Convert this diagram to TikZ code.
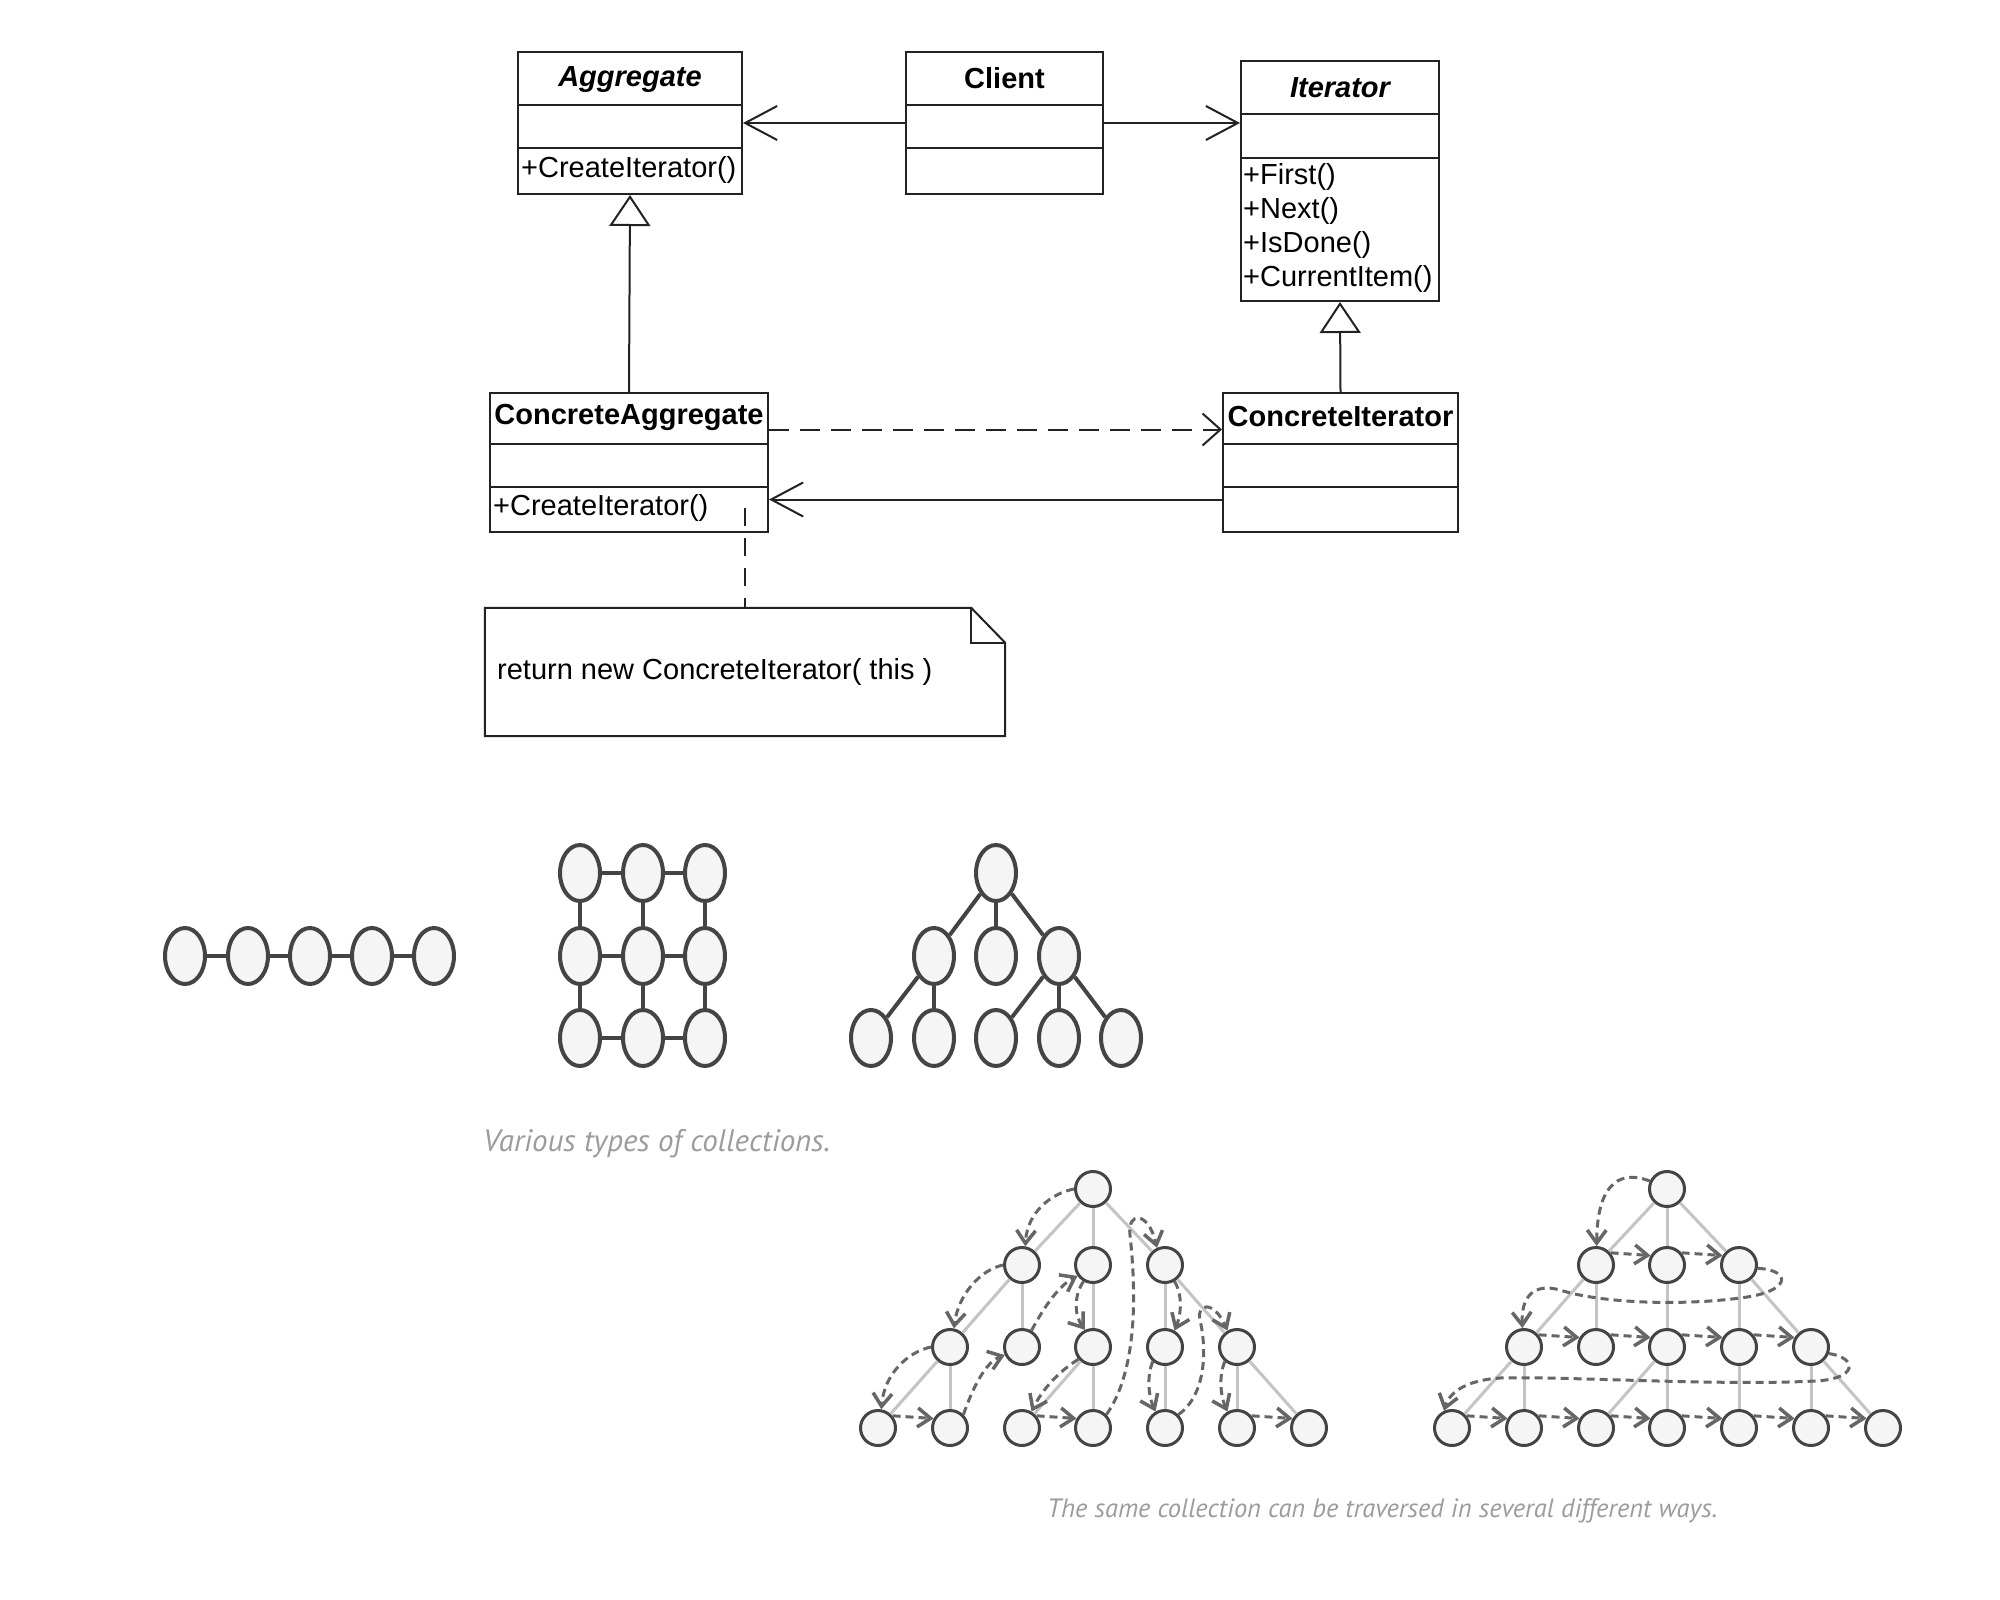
\documentclass[tikz,border=0pt]{standalone}
\usepackage{fontspec}
\setmainfont{Liberation Sans}
\newfontfamily\capfont{PT Sans}
\usetikzlibrary{arrows.meta,shapes.geometric,calc}
\definecolor{umlc}{HTML}{222222}
\definecolor{nodec}{HTML}{444444}
\definecolor{nodefill}{HTML}{F5F5F5}
\definecolor{edgec}{HTML}{C4C4C4}
\definecolor{trc}{HTML}{666666}
\definecolor{capgray}{HTML}{9C9C9C}
\newcommand{\umlsize}{\fontsize{29}{33}\selectfont}
\tikzset{
  umlline/.style={draw=umlc, line width=2pt},
  umlbox/.style={draw=umlc, line width=2pt, inner sep=0pt, rectangle},
  classname/.style={font=\umlsize\bfseries},
  abstractname/.style={font=\umlsize\bfseries\itshape},
  member/.style={anchor=west, inner sep=0pt, font=\umlsize},
  openarr/.style={-{Straight Barb[length=32pt,width=34pt]}},
  inherit/.style={-{Triangle[open,length=31pt,width=41pt,fill=white]}},
  umldash/.style={dash pattern=on 20pt off 11pt},
  coll/.style={ellipse, draw=nodec, fill=nodefill, line width=4pt, minimum width=40pt, minimum height=56pt, inner sep=0pt},
  colledge/.style={draw=nodec, line width=4pt},
  tnode/.style={circle, draw=nodec, fill=nodefill, line width=3pt, minimum size=35pt, inner sep=0pt},
  tedge/.style={draw=edgec, line width=3pt},
  tarrow/.style={draw=trc, line width=3pt, dash pattern=on 8pt off 5pt, -{Straight Barb[length=13pt,width=19pt,line width=3.5pt]}},
  captext/.style={inner sep=0pt, text=capgray, anchor=west}
}
\begin{document}
\begin{tikzpicture}[x=1pt,y=-1pt,font=\umlsize]
\fill[white] (0,0) rectangle (2000,1600);
\useasboundingbox (0,0) rectangle (2000,1600);

% ---------- UML classes ----------
\node[umlbox, minimum width=224pt, minimum height=142pt] (agg) at (630,123) {};
\draw[umlline] (agg.west |- 0,105) -- (agg.east |- 0,105);
\draw[umlline] (agg.west |- 0,148) -- (agg.east |- 0,148);
\node[abstractname] (aggT) at (630,80) {Aggregate};
\node[member] (aggM) at (521,170) {+CreateIterator()};

\node[umlbox, minimum width=197pt, minimum height=142pt] (client) at (1004.5,123) {};
\draw[umlline] (client.west |- 0,105) -- (client.east |- 0,105);
\draw[umlline] (client.west |- 0,148) -- (client.east |- 0,148);
\node[classname] (clientT) at (1004.5,78) {Client};

\node[umlbox, minimum width=198pt, minimum height=240pt] (iter) at (1340,181) {};
\draw[umlline] (iter.west |- 0,114) -- (iter.east |- 0,114);
\draw[umlline] (iter.west |- 0,158) -- (iter.east |- 0,158);
\node[abstractname] (iterT) at (1340,88) {Iterator};
\node[member] (iterM1) at (1243,177) {+First()};
\node[member] (iterM2) at (1243,211) {+Next()};
\node[member] (iterM3) at (1243,245) {+IsDone()};
\node[member] (iterM4) at (1243,279) {+CurrentItem()};

\node[umlbox, minimum width=278pt, minimum height=139pt] (ca) at (629,462.5) {};
\draw[umlline] (ca.west |- 0,444) -- (ca.east |- 0,444);
\draw[umlline] (ca.west |- 0,487) -- (ca.east |- 0,487);
\node[classname] (caT) at (629,417) {ConcreteAggregate};
\node[member] (caM) at (493,508) {+CreateIterator()};

\node[umlbox, minimum width=235pt, minimum height=139pt] (ci) at (1340.5,462.5) {};
\draw[umlline] (ci.west |- 0,444) -- (ci.east |- 0,444);
\draw[umlline] (ci.west |- 0,487) -- (ci.east |- 0,487);
\node[classname] (ciT) at (1340.5,417) {ConcreteIterator};

% note
\node[minimum width=520pt, minimum height=128pt, inner sep=0pt] (note) at (745,672) {};
\draw[umlline] (note.north west) -- ([xshift=-34pt]note.north east) -- ([yshift=-35pt]note.north east) -- (note.south east) -- (note.south west) -- cycle;
\draw[umlline] ([xshift=-34pt]note.north east) -- ([xshift=-34pt,yshift=-35pt]note.north east) -- ([yshift=-35pt]note.north east);
\node[member] (noteT) at (497,672) {return new ConcreteIterator( this )};

% UML connectors
\draw[umlline, openarr] (client.west) -- (agg.east);
\draw[umlline, openarr] (client.east) -- (client.east -| iter.west);
\draw[umlline, inherit] (ca.north) -- (agg.south);
\draw[umlline, inherit] (ci.north) -- (iter.south);
\draw[umlline, umldash, -{Straight Barb[length=18pt,width=32pt]}] ([yshift=33pt]ca.east) -- ([yshift=33pt]ci.west);
\draw[umlline, openarr] ([yshift=-37pt]ci.west) -- ([yshift=-37pt]ca.east);
\draw[umlline, dash pattern=on 18pt off 12pt] ($(ca.south -| note.north)+(0,-25)$) -- (note.north);

% ---------- collections ----------
\foreach \n/\x in {1/185,2/248,3/310,4/372,5/434} \node[coll] (c\n) at (\x,956) {};
\foreach \a/\b in {1/2,2/3,3/4,4/5} \draw[colledge] (c\a) -- (c\b);

\foreach \r/\y in {1/873,2/956,3/1038}
  \foreach \c/\x in {1/580,2/643,3/705}
    \node[coll] (g\r\c) at (\x,\y) {};
\foreach \r in {1,2,3} {\draw[colledge] (g\r1) -- (g\r2); \draw[colledge] (g\r2) -- (g\r3);}
\foreach \c in {1,2,3} {\draw[colledge] (g1\c) -- (g2\c); \draw[colledge] (g2\c) -- (g3\c);}

\foreach \n/\x/\y in {0/996/873, 1/934/956, 2/996/956, 3/1059/956, 4/871/1038, 5/934/1038, 6/996/1038, 7/1059/1038, 8/1121/1038}
  \node[coll] (t\n) at (\x,\y) {};
\foreach \a/\b in {0/1,0/2,0/3,1/4,1/5,3/6,3/7,3/8} \draw[colledge] (t\a) -- (t\b);

\node[captext, font=\capfont\itshape\fontsize{31}{36}\selectfont] (cap1) at (483,1144) {Various types of collections.};

% ---------- traversal trees ----------
\foreach \n/\x/\y in {0/1093/1189, 1/1022/1265, 2/1093/1265, 3/1165/1265, 4/950/1347, 5/1022/1347, 6/1093/1347, 7/1165/1347, 8/1237/1347, 9/878/1428, 10/950/1428, 11/1022/1428, 12/1093/1428, 13/1165/1428, 14/1237/1428, 15/1309/1428} {
  \node[tnode] (a\n) at (\x,\y) {};
  \node[tnode] (b\n) at (\x+574,\y) {};
}
\foreach \p/\c in {0/1,0/2,0/3,1/4,1/5,4/9,4/10,2/6,6/11,6/12,3/7,3/8,7/13,8/14,8/15} {
  \draw[tedge] (a\p) -- (a\c);
  \draw[tedge] (b\p) -- (b\c);
}

% depth-first traversal
\draw[tarrow] (a0.west) .. controls (1052,1193) and (1027,1212) .. (a1.80);
\draw[tarrow] (a1.west) .. controls (980,1270) and (958,1295) .. (a4.78);
\draw[tarrow] (a4.west) .. controls (907,1352) and (884,1375) .. (a9.80);
\draw[tarrow] (a9.40) -- (a10.150);
\draw[tarrow] (a10.45) .. controls (972,1390) and (985,1362) .. (a5.205);
\draw[tarrow] (a5.60) .. controls (1045,1305) and (1060,1285) .. (a2.215);
\draw[tarrow] (a2.240) .. controls (1074,1295) and (1074,1315) .. (a6.115);
\draw[tarrow] (a6.220) .. controls (1058,1372) and (1042,1390) .. (a11.60);
\draw[tarrow] (a11.40) -- (a12.150);
\draw[tarrow] (a12.45) .. controls (1138,1370) and (1136,1290) .. (1130,1235) .. controls (1127,1212) and (1148,1210) .. (a3.115);
\draw[tarrow] (a3.300) .. controls (1183,1295) and (1181,1315) .. (a7.60);
\draw[tarrow] (a7.230) .. controls (1147,1375) and (1148,1395) .. (a13.120);
\draw[tarrow] (a13.45) .. controls (1206,1395) and (1207,1350) .. (1200,1320) .. controls (1196,1303) and (1214,1300) .. (a8.120);
\draw[tarrow] (a8.230) .. controls (1219,1375) and (1220,1395) .. (a14.120);
\draw[tarrow] (a14.40) -- (a15.150);

% breadth-first traversal
\draw[tarrow] (b0.155) .. controls (1615,1168) and (1597,1190) .. (b1.88);
\draw[tarrow] (b1.40) -- (b2.150);
\draw[tarrow] (b2.40) -- (b3.150);
\draw[tarrow] (b3.350) .. controls (1792,1270) and (1792,1292) .. (1740,1298) .. controls (1680,1306) and (1600,1303) .. (1560,1290) .. controls (1535,1283) and (1521,1295) .. (b4.95);
\draw[tarrow] (b4.40) -- (b5.150);
\draw[tarrow] (b5.40) -- (b6.150);
\draw[tarrow] (b6.40) -- (b7.150);
\draw[tarrow] (b7.40) -- (b8.150);
\draw[tarrow] (b8.340) .. controls (1858,1358) and (1858,1379) .. (1815,1381) .. controls (1720,1386) and (1560,1376) .. (1500,1378) .. controls (1470,1380) and (1450,1390) .. (b9.115);
\draw[tarrow] (b9.40) -- (b10.150);
\draw[tarrow] (b10.40) -- (b11.150);
\draw[tarrow] (b11.40) -- (b12.150);
\draw[tarrow] (b12.40) -- (b13.150);
\draw[tarrow] (b13.40) -- (b14.150);
\draw[tarrow] (b14.40) -- (b15.150);

\node[captext, font=\capfont\itshape\fontsize{26.5}{30}\selectfont] (cap2) at (1047,1511) {The same collection can be traversed in several different ways.};
\end{tikzpicture}
\end{document}
